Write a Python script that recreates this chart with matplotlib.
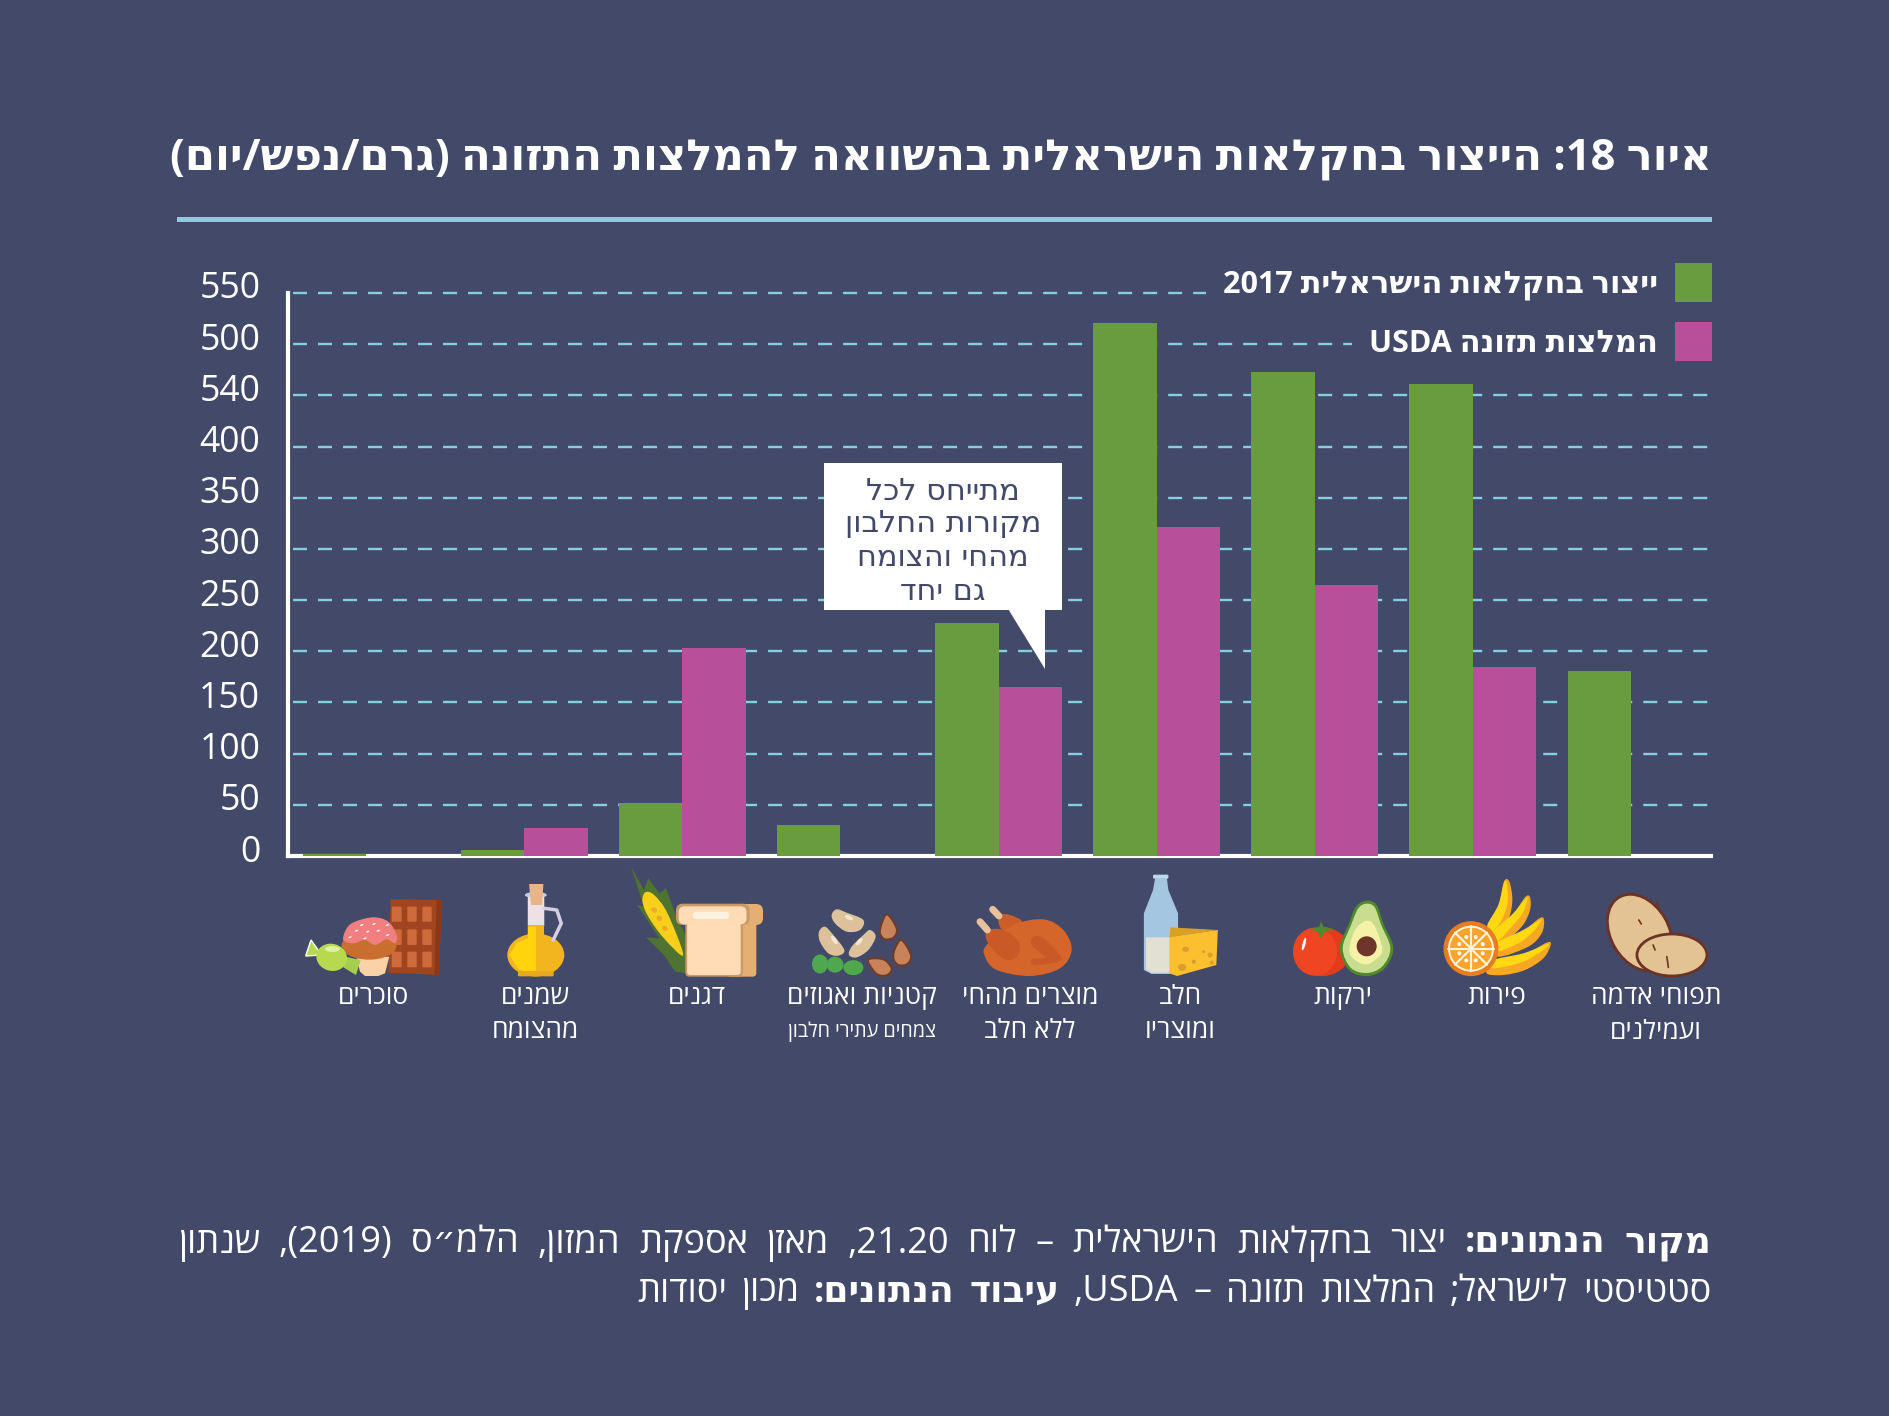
import re
import matplotlib
matplotlib.use("Agg")
import matplotlib.pyplot as plt
from matplotlib.patches import Ellipse, Polygon, FancyBboxPatch, Rectangle, PathPatch
from matplotlib.path import Path
from matplotlib.transforms import ScaledTranslation

# ---------- data ----------
categories = ["סוכרים", "שמנים\nמהצומח", "דגנים", "קטניות ואגוזים\nצמחים עתירי חלבון",
              "מוצרים מהחי\nללא חלב", "חלב\nומוצריו", "ירקות", "פירות", "תפוחי אדמה\nועמילנים"]
production = [2, 6, 52, 30, 228, 521, 473, 461, 181]
usda = [0, 27, 203, 0, 165, 321, 265, 185, 0]
y_ticks = [0, 50, 100, 150, 200, 250, 300, 350, 400, 450, 500, 550]
y_tick_labels = ["0", "50", "100", "150", "200", "250", "300", "350", "400", "540", "500", "550"]
legend_production = "ייצור בחקלאות הישראלית 2017"
legend_usda = "המלצות תזונה USDA"
title = "איור 18: הייצור בחקלאות הישראלית בהשוואה להמלצות התזונה (גרם/נפש/יום)"
callout = ["מתייחס לכל", "מקורות החלבון", "מהחי והצומח", "גם יחד"]
source_lines = [
    [("מקור הנתונים:", True), ("יצור בחקלאות הישראלית – לוח 21.20, מאזן אספקת המזון, הלמ״ס (2019), שנתון", False)],
    [("סטטיסטי לישראל; המלצות תזונה – USDA,", False), ("עיבוד הנתונים:", True), ("מכון יסודות", False)],
]

BG = "#434969"; GREEN = "#689c3f"; PURPLE = "#b74f9b"; CYAN = "#85cfdf"; WHITE = "#ffffff"
FONT = "Open Sans"
plt.rcParams["font.family"] = [FONT, "DejaVu Sans"]
plt.rcParams["text.parse_math"] = False


def rtl(s):
    """Logical Hebrew to visual order, as matplotlib lays glyphs left to right."""
    toks = re.findall(r"[A-Za-z0-9]+(?:[./][A-Za-z0-9]+)*|.", s)
    mirror = {"(": ")", ")": "("}
    return "".join(mirror.get(t, t) for t in reversed(toks))


fig = plt.figure(figsize=(18.9, 14.16), dpi=100, facecolor=BG)
W, H = 1890, 1416
L, R, T, B = 288, 1711, 293, 856
ax = fig.add_axes([L / W, 1 - B / H, (R - L) / W, (B - T) / H], facecolor="none")
x = list(range(len(categories)))
bw = 0.401
ax.bar(x, production, width=-bw, align="edge", color=GREEN, zorder=3)
ax.bar(x, usda, width=bw, align="edge", color=PURPLE, zorder=3)
ax.set_xlim(-0.494, 8.506)
ax.set_ylim(0, 550)
ax.set_xticks([])
ax.set_yticks(y_ticks, y_tick_labels)
ax.tick_params(axis="y", length=0, pad=20, labelsize=25.7, labelcolor=WHITE)
for lab in ax.get_yticklabels():
    lab.set_transform(lab.get_transform() + ScaledTranslation(0, 8 / 100, fig.dpi_scale_trans))
ax.grid(axis="y", color=CYAN, linewidth=1.7, linestyle=(8.47, (5.93, 4.66)), zorder=1, clip_on=False)
ax.set_axisbelow(True)
for s in ("top", "right"):
    ax.spines[s].set_visible(False)
for s in ("left", "bottom"):
    ax.spines[s].set_color(WHITE)
    ax.spines[s].set_linewidth(3)
    ax.spines[s].set_zorder(2.5)

# overlay in pixel coordinates for text, callout and pictograms
ov = fig.add_axes([0, 0, 1, 1], facecolor="none", zorder=10)
ov.set_xlim(0, W)
ov.set_ylim(H, 0)
ov.axis("off")


def txt(px, py, s, size, ha="center", weight="normal", color=WHITE, **kw):
    return ov.text(px, py, rtl(s), fontsize=size, ha=ha, va="center", fontweight=weight, color=color, **kw)


# title and rule
txt(1712, 158, title, 31.2, ha="right", weight="bold")
ov.add_patch(Rectangle((177, 216.5), 1535, 5, color=CYAN, lw=0))

# legend
for top, col, label, yc in [(263, GREEN, legend_production, 285), (322, PURPLE, legend_usda, 344)]:
    ov.add_patch(Rectangle((1675, top), 37, 39, color=col, lw=0))
    t = txt(1658, yc, label, 22, ha="right", weight="bold")
    t.set_bbox(dict(facecolor=BG, edgecolor="none", pad=12))

# callout
ov.add_patch(Rectangle((824, 463), 238, 147, color=WHITE, lw=0))
ov.add_patch(Polygon([(1007.5, 608), (1045, 669), (1045, 608)], color=WHITE, lw=0))
for yc, line_ in zip([491, 524, 558, 591], callout):
    txt(943, yc, line_, 21.9, color=BG, family=["DejaVu Sans"])

# category labels
label_x = [374, 535, 697, 862, 1030, 1180, 1343, 1497, 1656]
for i, (cx, name) in enumerate(zip(label_x, categories)):
    parts = name.split("\n")
    txt(cx, 998, parts[0], 19)
    if len(parts) > 1:
        txt(cx, 1032, parts[1], 14.2 if i == 3 else 19)

# source, laid out word by word (right to left) with bold runs
renderer = fig.canvas.get_renderer()
for yc, segs, justify in [(1239, source_lines[0], True), (1288, source_lines[1], False)]:
    words = [(w, b) for s, b in segs for w in s.split(" ")]
    items = []
    for w, b in words:
        t = ov.text(0, yc, rtl(w), fontsize=26, ha="left", va="center_baseline", color=WHITE,
                    fontweight="bold" if b else "normal")
        items.append((t, t.get_window_extent(renderer).width))
    total = sum(wd for _, wd in items)
    gap = (1711 - 178 - total) / (len(items) - 1) if justify else 14.5
    cur = 1711
    for t, wd in items:
        t.set_x(cur - wd)
        cur -= wd + gap


# ---------- pictograms ----------
def zoom_map(ox, oy, sx=3.0, sy=3.0):
    return lambda X, Y: (ox + X / sx, oy + Y / sy)


m2 = zoom_map(280, 860, 2.24)
m3 = zoom_map(950, 860, 1.96)
mf = zoom_map(1280, 870)
mn = zoom_map(800, 900)
ms = zoom_map(295, 880)


def poly(m, col, pts, **kw):
    ov.add_patch(Polygon([m(*p) for p in pts], closed=True, facecolor=col, edgecolor=kw.pop("ec", "none"),
                         linewidth=kw.pop("lw", 0), **kw))


def ell(m, col, X, Y, w, h, angle=0, ec="none", lw=0):
    ov.add_patch(Ellipse(m(X, Y), w, h, angle=angle, facecolor=col, edgecolor=ec, linewidth=lw))


def box(m, col, x0, y0, x1, y1, r=4):
    a, b = m(x0, y0), m(x1, y1)
    ov.add_patch(FancyBboxPatch((a[0] + r, a[1] + r), b[0] - a[0] - 2 * r, b[1] - a[1] - 2 * r,
                                boxstyle=f"round,pad={r}", facecolor=col, edgecolor="none"))


def line(m, col, pts, lw):
    xs, ys = zip(*[m(*p) for p in pts])
    ov.plot(xs, ys, color=col, lw=lw, solid_capstyle="round")


def blob(m, col, pts, ec="none", lw=0):
    """Closed smooth outline through the given points (Catmull-Rom as Bezier)."""
    p = [m(*q) for q in pts]
    n = len(p)
    verts = [p[0]]
    codes = [Path.MOVETO]
    for i in range(n):
        p0, p1, p2, p3 = p[i - 1], p[i], p[(i + 1) % n], p[(i + 2) % n]
        c1 = (p1[0] + (p2[0] - p0[0]) / 6, p1[1] + (p2[1] - p0[1]) / 6)
        c2 = (p2[0] - (p3[0] - p1[0]) / 6, p2[1] - (p3[1] - p1[1]) / 6)
        verts += [c1, c2, p2]
        codes += [Path.CURVE4] * 3
    ov.add_patch(PathPatch(Path(verts, codes), facecolor=col, edgecolor=ec, linewidth=lw))


# sugars
poly(ms, "#a0451f", [(287, 57), (440, 60), (432, 285), (280, 278)])
poly(ms, "#8a3818", [(425, 60), (440, 60), (432, 285), (418, 284)])
for x0, x1 in [(290, 320), (337, 365), (382, 410)]:
    for y0, y1 in [(80, 125), (148, 195), (215, 262)]:
        box(ms, "#cf6b3b", x0, y0, x1, y1, r=1)
poly(ms, "#f8d3a8", [(185, 235), (283, 230), (270, 280), (250, 288), (210, 288), (195, 275)])
ell(ms, "#c86f30", 222, 197, 55, 28)
blob(ms, "#f27f7f", [(145, 180), (155, 145), (180, 125), (235, 112), (280, 125), (305, 165), (300, 190),
                     (275, 178), (240, 195), (210, 180), (175, 190)])
for X, Y in [(200, 135), (237, 132), (277, 135), (218, 155), (185, 152), (250, 152), (210, 175), (165, 172), (278, 165)]:
    ell(ms, "#ffffff", X, Y, 3.5, 1.5, -20)
poly(ms, "#b6d94f", [(48, 180), (32, 228), (80, 225)], ec="#ffffff", lw=1)
poly(ms, "#a6ce4e", [(150, 230), (197, 240), (183, 285), (145, 262)])
ell(ms, "#b6d94f", 110, 232, 31, 27, 15)
ell(ms, "#dff0a0", 112, 207, 15, 6, 0)

# oil
line(m2, "#d5cfe3", [(592, 145), (620, 150), (630, 190), (612, 240)], 2.5)
ell(m2, "#cfc9de", 573, 105, 22, 6)
box(m2, "#eee0e5", 555, 110, 592, 200, r=1)
poly(m2, "#f2b41f", [(555, 195), (592, 195), (592, 240), (555, 240)])
ell(m2, "#f2b41f", 573, 285, 57, 43)
poly(m2, "#ffd40d", [(555, 200), (573, 200), (573, 345), (560, 345), (533, 325), (514, 285), (530, 250), (555, 235)])
box(m2, "#e8a91c", 533, 333, 613, 349, r=1)
poly(m2, "#e8b48a", [(558, 72), (590, 72), (587, 135), (562, 135)])

# grains
poly(m2, "#4f7330", [(787, 22), (815, 90), (825, 55), (850, 100), (865, 85), (885, 160), (910, 230), (910, 340),
                     (885, 335), (860, 285), (820, 232), (850, 235), (800, 135), (815, 140)])
blob(m2, "#f8d01a", [(818, 97), (838, 105), (868, 160), (903, 285), (860, 235), (825, 170), (812, 125)])
for p in [(850, 175), (862, 205), (838, 150)]:
    ell(m2, "#eda92a", p[0], p[1], 6, 5, 35)
box(m2, "#e5ae72", 1000, 132, 1082, 195, r=7)
box(m2, "#e5ae72", 1000, 170, 1067, 350, r=4)
box(m2, "#c99a69", 887, 131, 1052, 195, r=7)
box(m2, "#c99a69", 908, 170, 1037, 350, r=4)
box(m2, "#ffdcb5", 893, 139, 1045, 193, r=6)
box(m2, "#ffdcb5", 912, 170, 1032, 345, r=3)
box(m2, "#fff1df", 925, 155, 1006, 177, r=3)

# legumes and nuts
for pts in ([(110, 28), (140, 38), (190, 60), (180, 90), (140, 95), (105, 70), (95, 45)],
            [(75, 80), (100, 105), (133, 150), (115, 167), (85, 160), (60, 125), (57, 95)],
            [(210, 90), (227, 110), (205, 150), (170, 172), (147, 165), (155, 140), (190, 105)]):
    blob(mn, "#dcc19a", pts)
for X, Y, w, h, a in [(147, 53, 9, 4, 25), (103, 120, 4, 10, -35), (178, 125, 4, 9, 40)]:
    ell(mn, "#f3e6d2", X, Y, w, h, a)
for X, Y, w, h in [(60, 192, 16, 19), (105, 194, 17, 16), (160, 203, 20, 15)]:
    ell(mn, "#4fa84e", X, Y, w, h)
for pts in ([(262, 43), (290, 85), (282, 112), (255, 118), (240, 100), (245, 70)],
            [(305, 120), (333, 165), (322, 192), (295, 195), (280, 175), (285, 145)],
            [(205, 178), (250, 178), (275, 205), (262, 225), (235, 225), (215, 205)]):
    blob(mn, "#c9835a", pts, ec="#6e3c2a", lw=1.5)

# chicken
line(mn, "#e8c09a", [(578, 28), (597, 48)], 5)
line(mn, "#e8c09a", [(540, 65), (562, 90)], 5)
blob(mn, "#cc5d28", [(600, 45), (630, 45), (665, 65), (620, 95), (597, 75)])
blob(mn, "#d5652a", [(560, 135), (640, 75), (730, 58), (790, 90), (815, 150), (780, 205), (690, 228), (590, 210), (555, 170)])
blob(mn, "#c95a28", [(565, 90), (610, 90), (655, 125), (655, 165), (620, 180), (580, 150), (558, 115)])
blob(mn, "#c95a28", [(700, 110), (730, 115), (780, 165), (775, 185), (705, 195), (695, 178), (735, 172), (695, 135)])

# milk and cheese
poly(m3, "#a4c6e0", [(402, 55), (425, 55), (428, 90), (447, 160), (447, 330), (430, 342), (395, 342), (380, 330),
                     (380, 160), (398, 90)])
box(m3, "#bcd8ea", 398, 44, 428, 56, r=1)
poly(m3, "#e2e0d2", [(384, 232), (445, 232), (445, 330), (430, 338), (395, 338), (384, 328)])
poly(m3, "#fbbf2f", [(430, 230), (525, 210), (522, 315), (445, 348), (430, 340)])
poly(m3, "#d9a028", [(432, 202), (525, 210), (430, 232)])
for X, Y, w, h in [(462, 268, 7, 5), (455, 322, 8, 7), (510, 285, 5, 5), (478, 305, 4, 4), (513, 308, 4, 4), (497, 275, 3, 3)]:
    ell(m3, "#d99f2b", X, Y, w, h)

# vegetables
ell(mf, "#e23c1e", 125, 245, 57, 49)
ell(mf, "#f04522", 105, 245, 44, 48)
poly(mf, "#4f8a2b", [(88, 178), (118, 170), (123, 153), (130, 170), (162, 177), (135, 185), (122, 205), (112, 185)])
ell(mf, "#ffffff", 72, 222, 3, 13, 15)
blob(mf, "#4f8a2b", [(260, 92), (290, 105), (310, 160), (340, 235), (312, 297), (260, 318), (207, 300), (179, 235), (205, 165), (228, 110)])
blob(mf, "#c9dd91", [(260, 101), (284, 112), (303, 163), (331, 235), (306, 290), (260, 309), (212, 293), (188, 235), (212, 168), (235, 115)])
blob(mf, "#f5f2a8", [(260, 152), (285, 170), (307, 240), (285, 270), (258, 283), (225, 270), (208, 240), (225, 180)])
ell(mf, "#70352a", 260, 229, 20, 20)

# fruit
bananas = [
    ([(672, 35), (688, 35), (697, 90), (685, 150), (650, 205), (625, 170), (655, 110)],
     [(672, 38), (680, 40), (683, 95), (665, 150), (632, 190), (622, 165), (655, 105)]),
    ([(735, 82), (750, 82), (750, 120), (725, 170), (660, 225), (640, 195), (695, 140)],
     [(738, 85), (742, 90), (728, 130), (695, 170), (650, 215), (635, 190), (695, 135)]),
    ([(778, 145), (792, 150), (785, 190), (745, 230), (655, 260), (645, 220), (720, 190)],
     [(780, 150), (783, 152), (760, 185), (715, 220), (650, 245), (645, 220), (720, 185)]),
    ([(800, 218), (812, 225), (790, 265), (735, 300), (670, 315), (620, 310), (640, 275), (730, 255)],
     [(803, 222), (790, 240), (730, 275), (640, 295), (640, 270), (730, 250)]),
]
for outer, inner in bananas:
    blob(mf, "#f7a823", outer)
    blob(mf, "#ffd712", inner)
ell(mf, "#e87d1f", 573, 236, 55, 55)
ell(mf, "#fff3d8", 573, 236, 46, 46)
ell(mf, "#fba32b", 573, 236, 42, 42)
for dx, dy in [(68, 0), (48, 48), (0, 68), (-48, 48), (-68, 0), (-48, -48), (0, -68), (48, -48)]:
    line(mf, "#fff3d8", [(573, 236), (573 + dx, 236 + dy)], 1.6)
for dx, dy in [(14, 35), (-14, 35), (14, -35), (-14, -35), (35, 14), (-35, 14), (35, -14), (-35, -14)]:
    ell(mf, "#ffffff", 573 + dx, 236 + dy, 4, 4)

# potatoes
ell(m3, "#e3c294", 1352, 218, 58, 82, -30, ec="#6b3325", lw=2)
ell(m3, "#e3c294", 1415, 285, 70, 42, 0, ec="#6b3325", lw=2)
for p, q in [((1405, 290), (1408, 322)), ((1378, 255), (1382, 270)), ((1350, 180), (1355, 192)), ((1385, 125), (1388, 140))]:
    line(m3, "#6b3325", [p, q], 1.2)

fig.savefig("out.png", dpi=100, facecolor=BG)
